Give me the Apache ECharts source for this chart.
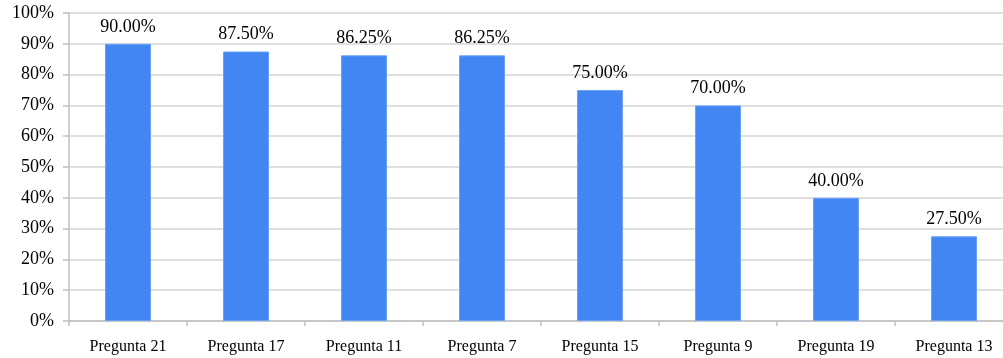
<!DOCTYPE html>
<html>
<head>
<meta charset="utf-8">
<script src="https://cdn.jsdelivr.net/npm/echarts@6/dist/echarts.min.js"></script>
<style>
  html, body { margin: 0; padding: 0; background: #fff; overflow: hidden; }
  #wrap { width: 1003px; height: 358px; overflow: hidden; }
  /* plot area runs slightly past the right edge of the visible frame */
  #chart { width: 1013px; height: 358px; }
</style>
</head>
<body>
<div id="wrap"><div id="chart"></div></div>
<script>
// Share of correct answers per question
const categories = ['Pregunta 21', 'Pregunta 17', 'Pregunta 11', 'Pregunta 7', 'Pregunta 15', 'Pregunta 9', 'Pregunta 19', 'Pregunta 13'];
const values = [90.00, 87.50, 86.25, 86.25, 75.00, 70.00, 40.00, 27.50];

const serif = '"Liberation Serif", "Times New Roman", serif';
const gridColor = '#d4d4d4';

const chart = echarts.init(document.getElementById('chart'));
chart.setOption({
  animation: false,
  grid: { left: 69, right: 0, top: 13, bottom: 37, containLabel: false },
  xAxis: {
    type: 'category',
    data: categories,
    boundaryGap: true,
    axisLine: { lineStyle: { color: '#bfbfbf', width: 1.5 } },
    axisTick: { show: true, length: 5, interval: 0, lineStyle: { color: '#bfbfbf', width: 1.5 } },
    axisLabel: { interval: 0, color: '#000', fontFamily: serif, fontSize: 16, margin: 18 }
  },
  yAxis: {
    type: 'value',
    min: 0, max: 100, interval: 10,
    axisLine: { show: true, lineStyle: { color: '#bfbfbf', width: 1.5 } },
    axisTick: { show: true, length: 6, lineStyle: { color: '#bfbfbf', width: 1.5 } },
    splitLine: { lineStyle: { color: gridColor, width: 1.5 } },
    axisLabel: { color: '#000', fontFamily: serif, fontSize: 18, margin: 15, formatter: v => v + '%' }
  },
  series: [{
    type: 'bar',
    data: values,
    barWidth: 46,
    itemStyle: { color: '#4286f4', borderColor: '#6aa2f7', borderWidth: 1 },
    label: {
      show: true, position: 'top', distance: 8,
      color: '#000', fontFamily: serif, fontSize: 18,
      formatter: p => p.value.toFixed(2) + '%'
    }
  }]
});
</script>
</body>
</html>
